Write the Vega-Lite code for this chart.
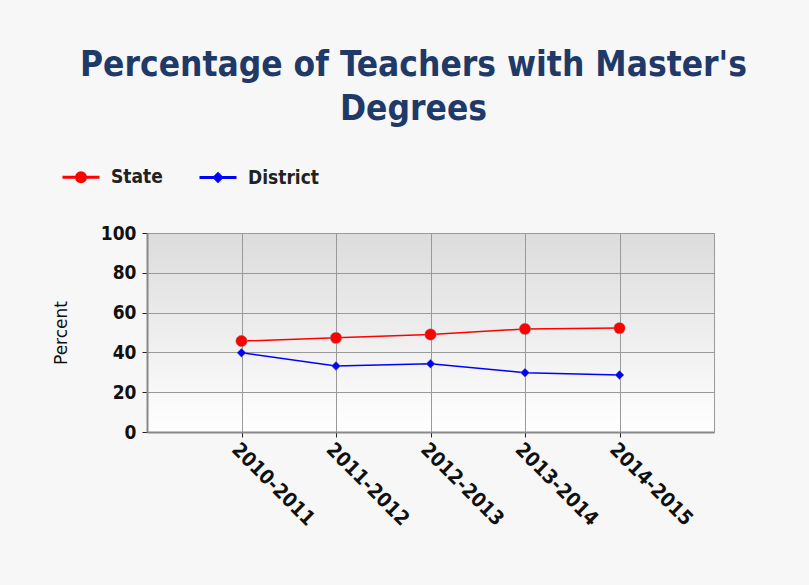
{
  "$schema": "https://vega.github.io/schema/vega-lite/v6.json",
  "width": 567,
  "height": 199,
  "autosize": {"type": "none"},
  "padding": {"left": 147, "top": 233, "right": 95, "bottom": 153},
  "background": "#f7f7f7",
  "title": {
    "text": ["Percentage of Teachers with Master's", "Degrees"],
    "font": "DejaVu Sans Condensed",
    "fontSize": 35,
    "fontWeight": "bold",
    "color": "#1f3a68",
    "anchor": "middle",
    "frame": "group",
    "dx": -17,
    "offset": 30,
    "lineHeight": 44
  },
  "data": {
    "values": [
      {"year": "2010-2011", "series": "State", "value": 45.7},
      {"year": "2011-2012", "series": "State", "value": 47.3},
      {"year": "2012-2013", "series": "State", "value": 49.0},
      {"year": "2013-2014", "series": "State", "value": 51.8},
      {"year": "2014-2015", "series": "State", "value": 52.2},
      {"year": "2010-2011", "series": "District", "value": 39.8},
      {"year": "2011-2012", "series": "District", "value": 33.2},
      {"year": "2012-2013", "series": "District", "value": 34.3},
      {"year": "2013-2014", "series": "District", "value": 29.8},
      {"year": "2014-2015", "series": "District", "value": 28.6}
    ]
  },
  "encoding": {
    "x": {
      "field": "year",
      "type": "ordinal",
      "scale": {"type": "point", "padding": 1},
      "axis": {
        "title": null,
        "labelAngle": 45,
        "labelAlign": "left",
        "labelBaseline": "top",
        "labelFont": "DejaVu Sans Condensed",
        "labelFontWeight": "bold",
        "labelFontSize": 20,
        "labelColor": "#111111",
        "labelPadding": 2,
        "tickColor": "#222222",
        "tickSize": 5,
        "domainColor": "#888888",
        "domainWidth": 2,
        "grid": true,
        "gridColor": "#999999"
      }
    },
    "y": {
      "field": "value",
      "type": "quantitative",
      "scale": {"domain": [0, 100], "nice": false},
      "axis": {
        "title": "Percent",
        "titleFont": "DejaVu Sans",
        "titleFontWeight": "normal",
        "titleFontSize": 17,
        "titleColor": "#111111",
        "titlePadding": 30,
        "values": [0, 20, 40, 60, 80, 100],
        "labelFont": "DejaVu Sans Condensed",
        "labelFontWeight": "bold",
        "labelFontSize": 19,
        "labelColor": "#111111",
        "labelPadding": 6,
        "tickColor": "#222222",
        "tickSize": 5,
        "domainColor": "#888888",
        "domainWidth": 2,
        "grid": true,
        "gridColor": "#999999"
      }
    },
    "color": {
      "field": "series",
      "type": "nominal",
      "scale": {"domain": ["State", "District"], "range": ["#ff0000", "#0000ff"]},
      "legend": {
        "title": null,
        "orient": "none",
        "legendX": -86,
        "legendY": -76,
        "direction": "horizontal",
        "symbolSize": 1369,
        "symbolStrokeWidth": 3,
        "symbolOpacity": 1,
        "labelFont": "DejaVu Sans Condensed",
        "labelFontWeight": "bold",
        "labelFontSize": 19,
        "labelColor": "#222222",
        "labelOffset": 10,
        "columnPadding": 30
      }
    }
  },
  "layer": [
    {"mark": {"type": "line", "strokeWidth": 1.5}},
    {
      "mark": {"type": "point", "filled": false, "opacity": 0, "strokeWidth": 3},
      "encoding": {
        "shape": {
          "field": "series",
          "type": "nominal",
          "scale": {
            "domain": ["State", "District"],
            "range": [
              "M-1,0L1,0M0.24,0A0.24,0.24 0 1,1 -0.24,0A0.24,0.24 0 1,1 0.24,0Z",
              "M-1,0L1,0M0,-0.2L0.2,0L0,0.2L-0.2,0Z"
            ]
          }
        }
      }
    },
    {
      "transform": [{"filter": "datum.series === 'State'"}],
      "mark": {"type": "point", "shape": "circle", "size": 130, "filled": true, "opacity": 1, "stroke": "#888888", "strokeWidth": 0.5}
    },
    {
      "transform": [{"filter": "datum.series === 'District'"}],
      "mark": {"type": "point", "shape": "diamond", "size": 80, "filled": true, "opacity": 1, "stroke": "#888888", "strokeWidth": 0.5}
    }
  ],
  "config": {
    "view": {
      "stroke": "#999999",
      "strokeWidth": 1,
      "fill": {
        "gradient": "linear",
        "x1": 0, "y1": 0, "x2": 0, "y2": 1,
        "stops": [
          {"offset": 0, "color": "#dcdcdc"},
          {"offset": 1, "color": "#ffffff"}
        ]
      }
    }
  }
}
